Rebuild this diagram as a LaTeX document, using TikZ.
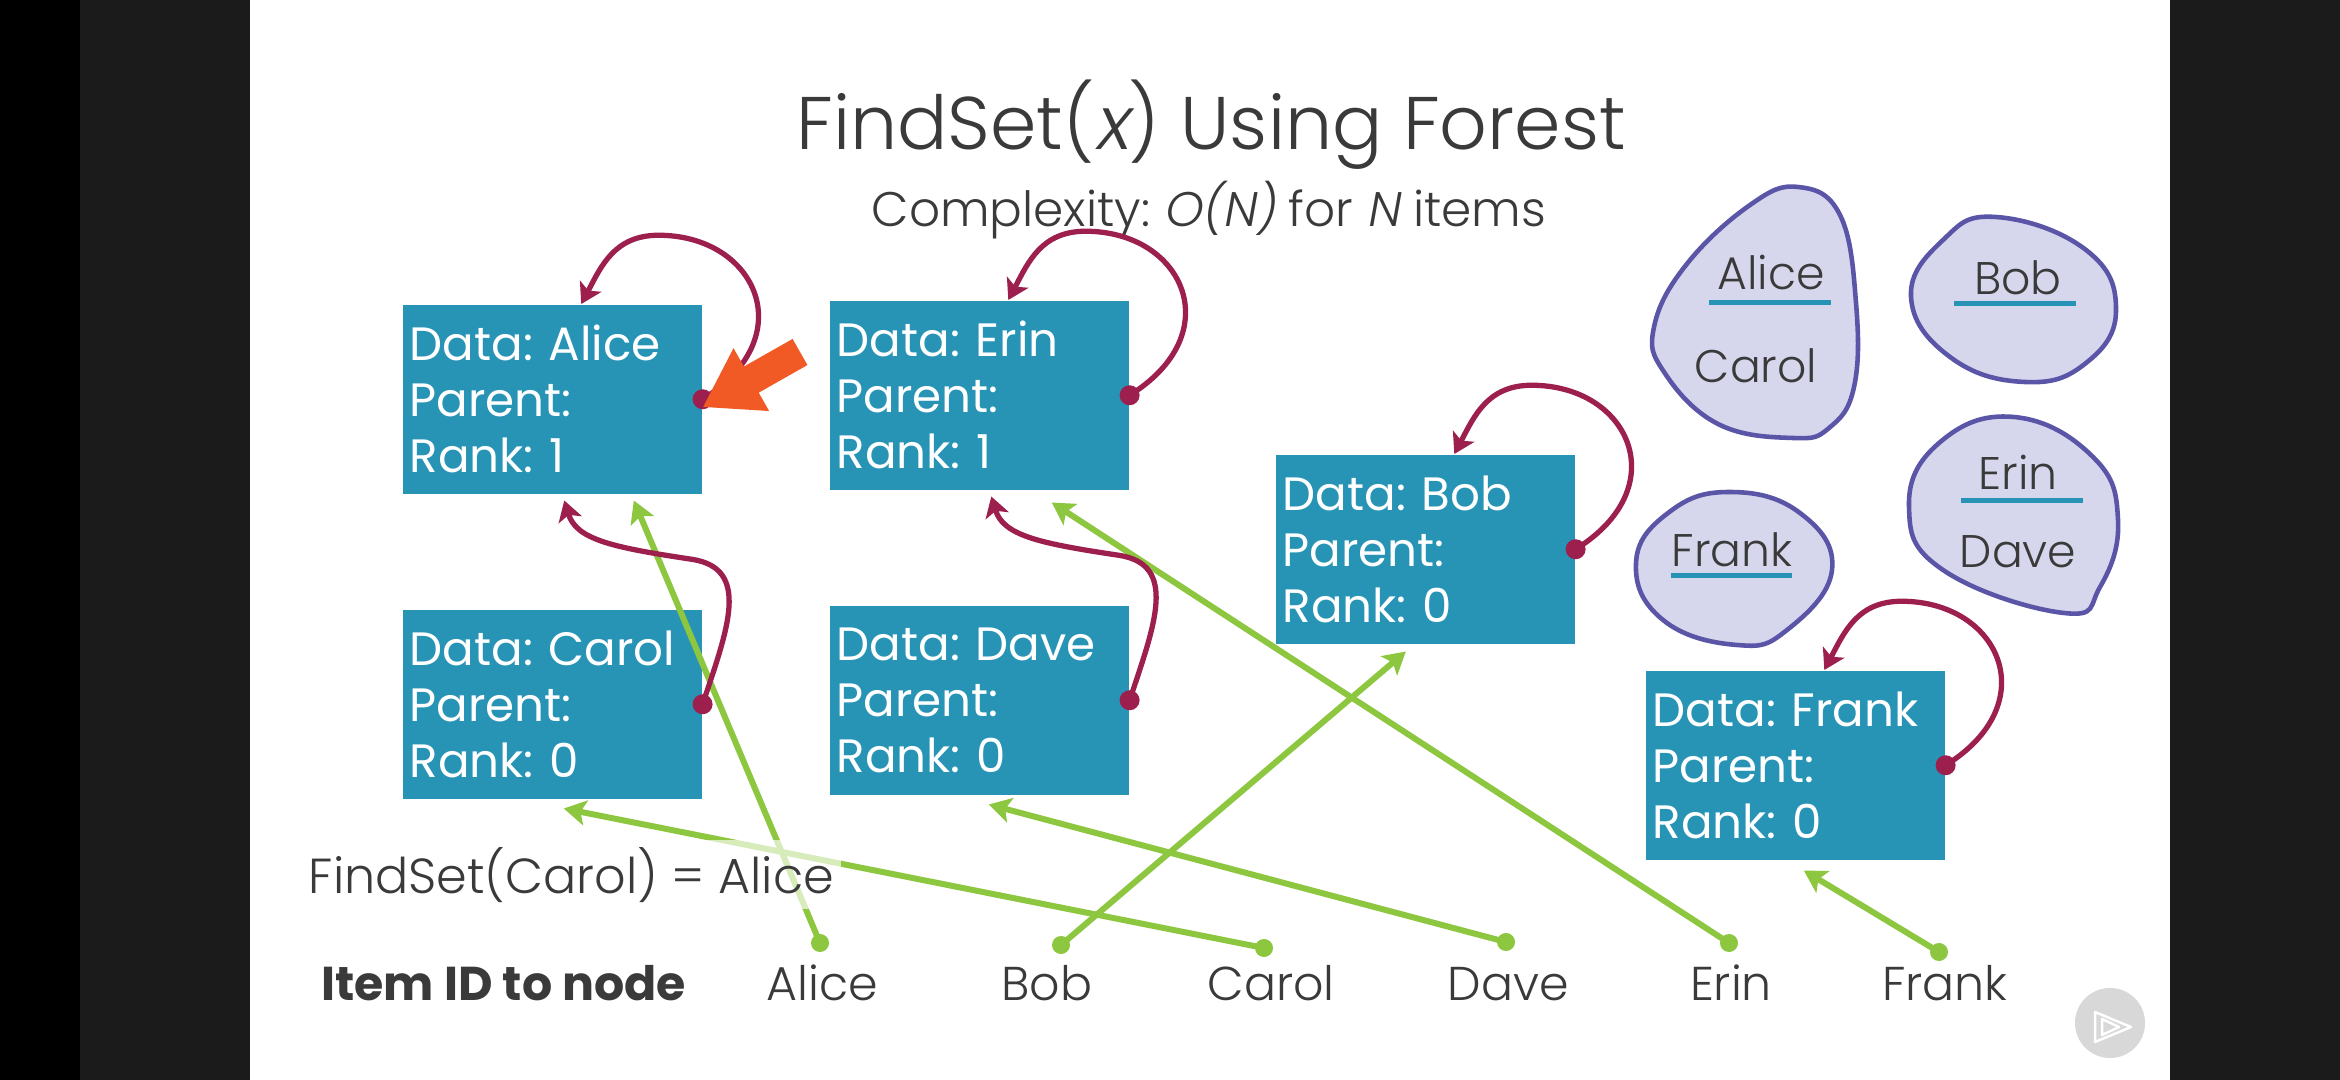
\documentclass[tikz,border=0pt]{standalone}
\usepackage{fontspec}
\setmainfont{Poppins}
\newfontfamily\lightfont{Poppins Light}
\newfontfamily\lightslant{Poppins Light}[FakeSlant=0.18]
\usetikzlibrary{arrows.meta,calc}
\frenchspacing

\definecolor{nodeteal}{HTML}{2794B6}
\definecolor{linkred}{HTML}{9C1F4E}
\definecolor{idgreen}{HTML}{8DC63F}
\definecolor{pointer}{HTML}{F15A24}
\definecolor{setfill}{HTML}{D6D6EC}
\definecolor{setline}{HTML}{5A55A6}
\definecolor{ink}{HTML}{3A3A3A}
\definecolor{frame}{HTML}{1B1B1B}
\definecolor{playgray}{HTML}{D8D8D8}

\begin{document}
\begin{tikzpicture}[x=0.01cm, y=-0.01cm,
  record/.style={fill=nodeteal, text=white, anchor=north west,
    minimum height=1.89cm, inner xsep=0.07cm, inner ysep=0pt,
    text width=2.85cm, align=left, font=\fontsize{13.3}{15.9}\selectfont},
  parentlink/.style={linkred, line width=1.5pt,
    -{Stealth[length=0.2cm,width=0.24cm,inset=0.05cm]}},
  idlink/.style={idgreen, line width=0.06cm,
    -{Stealth[length=0.22cm,width=0.25cm,inset=0.05cm]}},
  setblob/.style={fill=setfill, draw=setline, line width=1.3pt},
  settext/.style={font=\lightfont\fontsize{13}{15}\selectfont, text=ink, anchor=base},
  rootmark/.style={nodeteal, line width=0.05cm},
  idlabel/.style={font=\lightfont\fontsize{13.5}{16}\selectfont, text=ink, anchor=base},
]
\useasboundingbox (0,0) rectangle (2340,1080);

% slide frame
\fill[black] (0,0) rectangle (80,1080);
\fill[frame] (80,0) rectangle (250,1080);
\fill[white] (250,0) rectangle (2170,1080);
\fill[frame] (2170,0) rectangle (2340,1080);

% headings
\node[font=\lightfont\fontsize{21.2}{25}\selectfont, text=ink, anchor=base] (title)
  at (1211,150) {FindSet({\lightslant x}) Using Forest};
\node[font=\lightfont\fontsize{13.8}{16}\selectfont, text=ink, anchor=base] (subtitle)
  at (1209,227) {Complexity: {\lightslant O(N)} for {\lightslant N} items};

% forest nodes
\node[record] (alice) at (402,304) {Data: Alice\\Parent:\\Rank: 1};
\node[record] (carol) at (402,609) {Data: Carol\\Parent:\\Rank: 0};
\node[record] (erin)  at (829,300) {Data: Erin\\Parent:\\Rank: 1};
\node[record] (dave)  at (829,605) {Data: Dave\\Parent:\\Rank: 0};
\node[record] (bob)   at (1275,454) {Data: Bob\\Parent:\\Rank: 0};
\node[record] (frank) at (1645,670) {Data: Frank\\Parent:\\Rank: 0};

% item id lookup row
\node[font=\bfseries\fontsize{13.5}{16}\selectfont, text=ink, anchor=base west] (idhead)
  at (309,1000) {Item ID to node};
\node[idlabel] (lbl-alice) at (822,1000) {Alice};
\node[idlabel] (lbl-bob)   at (1047,1000) {Bob};
\node[idlabel] (lbl-carol) at (1271,1000) {Carol};
\node[idlabel] (lbl-dave)  at (1508,1000) {Dave};
\node[idlabel] (lbl-erin)  at (1731,1000) {Erin};
\node[idlabel] (lbl-frank) at (1945,1000) {Frank};

\coordinate (id-alice) at (820,943);
\coordinate (id-bob)   at (1061,945);
\coordinate (id-carol) at (1264,948);
\coordinate (id-dave)  at (1506,942);
\coordinate (id-erin)  at (1729,943);
\coordinate (id-frank) at (1939,952);

\draw[idlink] (id-alice) -- ($(alice.south)+(81.5,6)$);
\draw[idlink] (id-bob)   -- ($(bob.south)+(-19.5,7)$);
\draw[idlink] (id-carol) -- ($(carol.south)+(11.5,9)$);
\draw[idlink] (id-dave)  -- ($(dave.south)+(9.5,9)$);
\draw[idlink] (id-erin)  -- ($(erin.south)+(72.5,12)$);
\draw[idlink] (id-frank) -- ($(frank.south)+(8.5,10)$);
\foreach \p in {id-alice,id-bob,id-carol,id-dave,id-erin,id-frank}
  \fill[idgreen] (\p) circle (0.09cm);

% result of the lookup
\node[font=\lightfont\fontsize{14}{17}\selectfont, text=ink, anchor=base west,
  fill=white, fill opacity=0.65, text opacity=1, inner sep=2pt] (result)
  at (301,893) {FindSet(Carol) = Alice};

% roots point to themselves
\foreach \n in {alice,erin,bob,frank} {
  \draw[parentlink] (\n.east) .. controls +(100,-62) and +(98,0) ..
    ($(\n.east)+(-44,-164)$) .. controls +(-44,0) and +(20,-38) ..
    ($(\n.north)+(29,0)$);
  \fill[linkred] (\n.east) circle (0.1cm);
}

% children point to their parents
\foreach \c/\p in {carol/alice,dave/erin} {
  \draw[parentlink] (\c.east) .. controls +(25,-75) and +(60,9) ..
    ($(\c.east)+(-11,-145)$) .. controls +(-80,-12) and +(12,39) ..
    ($(\p.south)+(12,6)$);
  \fill[linkred] (\c.east) circle (0.1cm);
}

% highlight on the root's parent field
\coordinate (ptr-tail) at (800,352);
\coordinate (ptr-tip) at ($(alice.east)+(0,8)$);
\draw[pointer, line width=0.3cm, -{Triangle[length=0.56cm,width=0.68cm]}]
  (ptr-tail) -- (ptr-tip);

% disjoint sets
\draw[setblob] plot[smooth cycle, tension=0.7] coordinates {
  (1798,187) (1840,215) (1856,303) (1854,387) (1829,428) (1793,438)
  (1718,424) (1664,372) (1654,327) (1686,265) (1750,205)};
\draw[setblob] plot[smooth cycle, tension=0.75] coordinates {
  (1996,217) (2086,250) (2116,310) (2086,363) (2025,382) (1950,357)
  (1911,297) (1943,240)};
\draw[setblob] plot[smooth cycle, tension=0.75] coordinates {
  (2014,417) (2093,457) (2118,520) (2100,587) (2064,613) (1943,570)
  (1909,507) (1939,443)};
\draw[setblob] plot[smooth cycle, tension=0.75] coordinates {
  (1729,492) (1800,513) (1832,570) (1787,630) (1737,645) (1663,620)
  (1636,563) (1668,513)};

\node[settext] (set-alice) at (1771,290) {Alice};
\node[settext] (set-carol) at (1756,383) {Carol};
\node[settext] (set-bob)   at (2018,295) {Bob};
\node[settext] (set-erin)  at (2018,490) {Erin};
\node[settext] (set-dave)  at (2018,568) {Dave};
\node[settext] (set-frank) at (1732,567) {Frank};
\draw[rootmark] (1709,303) -- (1831,303);
\draw[rootmark] (1954,304) -- (2076,304);
\draw[rootmark] (1961,501) -- (2083,501);
\draw[rootmark] (1671,576) -- (1792,576);

% player badge
\fill[playgray] (2110,1023) circle (0.35cm);
\draw[white, line width=0.7pt, line join=round]
  (2095,1012) -- (2131,1027) -- (2095,1042) -- cycle;
\draw[white, line width=0.7pt, line join=round]
  (2102,1019) -- (2119,1027) -- (2102,1035) -- cycle;
\end{tikzpicture}
\end{document}
